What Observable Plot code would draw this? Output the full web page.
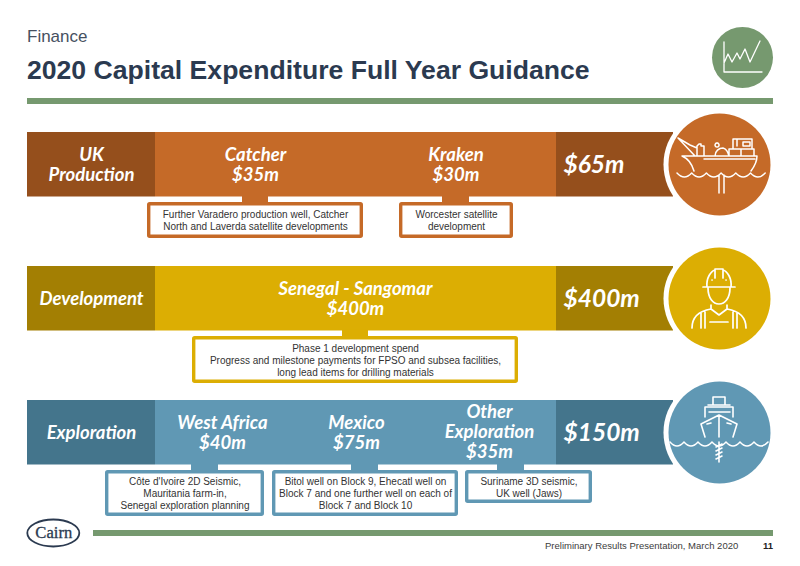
<!DOCTYPE html>
<html><head><meta charset="utf-8">
<script src="https://cdn.jsdelivr.net/npm/d3@7"></script>
<script src="https://cdn.jsdelivr.net/npm/@observablehq/plot@0.6"></script>
<style>
html,body{margin:0;padding:0;background:#fff;width:800px;height:566px;overflow:hidden}
#chart{position:absolute;left:0;top:0}
.t{position:absolute;font-family:"Liberation Sans",Arial,sans-serif;white-space:nowrap}
#sub{left:27px;top:27px;font-size:17px;color:#46505f}
#title{left:27px;top:55px;font-size:26.6px;font-weight:700;color:#2b3a50;margin:0}
#foot{left:545px;top:540px;font-size:9.5px;color:#3c3c3c}
#page{left:763px;top:540px;font-size:9.5px;font-weight:700;color:#222}
</style></head><body>
<div class="t" id="sub">Finance</div>
<h1 class="t" id="title">2020 Capital Expenditure Full Year Guidance</h1>
<div id="chart"></div>
<div class="t" id="foot">Preliminary Results Presentation, March 2020</div>
<div class="t" id="page">11</div>
<script>
// ---- values
const rowNames = ["UK\nProduction", "Development", "Exploration"];
const rowTotals = [65, 400, 150];
const itemRows = [0, 0, 1, 2, 2, 2];
const itemNames = ["Catcher", "Kraken", "Senegal - Sangomar", "West Africa", "Mexico", "Other\nExploration"];
const itemValues = [35, 30, 400, 40, 75, 35];
const itemNotes = [
  "Further Varadero production well, Catcher\nNorth and Laverda satellite developments",
  "Worcester satellite\ndevelopment",
  "Phase 1 development spend\nProgress and milestone payments for FPSO and subsea facilities,\nlong lead items for drilling materials",
  "Côte d'Ivoire 2D Seismic,\nMauritania farm-in,\nSenegal exploration planning",
  "Bitol well on Block 9, Ehecatl well on\nBlock 7 and one further well on each of\nBlock 7 and Block 10",
  "Suriname 3D seismic,\nUK well (Jaws)"
];

// ---- layout and style, kept apart from the values
const W = 800, H = 566;
const rowTop = [132, 266, 400], rowH = 64.5;
const darkL = [27, 155], mid = [155, 556], darkR = [556, 673];
const circleX = 719, circleY = [164, 298, 432];
const fills = ["#c56a28", "#dcae03", "#6098b4"];
const darks = ["#954f1c", "#a37f03", "#44758c"];
const green = "#76996f";
const itemCx = [255, 455.5, 355, 222, 356, 489];
const itemLabelY = [164, 164, 298, 432, 432, 431];
const boxes = [[147,363,202,238],[399,513,202,238],[192,518,336,383],[105,264,470,516],[272,458,470,516],[465,592,470,503]];
const stubs = [[242,268],[442,469],[342,368],[191,218],[351,378],[497,524]];
const heading = '"Lato","Carlito",sans-serif';
const body = '"Liberation Sans",Arial,sans-serif';

const rows = rowNames.map((name, i) => ({name, total: rowTotals[i], i}));
const items = itemNames.map((name, i) => ({name, value: itemValues[i], note: itemNotes[i], row: itemRows[i], i}));

// Icons: line art in circle-local pixels, drawn by a small custom mark
function icon(cx, cy, d, sw) {
  return (index, {x, y}) => {
    const g = d3.create("svg:g").attr("transform", `translate(${x(cx)},${y(cy)})`);
    g.append("path").attr("d", d).attr("fill", "none").attr("stroke", "#fff")
      .attr("stroke-width", sw).attr("stroke-linejoin", "round").attr("stroke-linecap", "round");
    return g.node();
  };
}
const waves = (x0, n, w, y) => {
  let s = `M${x0} ${y}`;
  for (let k = 0; k < n; k++) s += `q${w/2} 8 ${w} 0`;
  return s;
};
const chartIcon = "M-18 -15V15H20M-18 6L-14 -3L-10 5L-5 -4L-2 2L3 -8L8 5L18 -16";
const shipIcon = waves(-42, 6, 14.7, 9) +
  "M-41 -26L-24 -8M-41 -26L-29 -19L-22 -16M-22 -8V-18L-20 -20H-18V-18H-15V-8" +
  "M-37 -8H38M-15 -5H36M-37 -8C-30 -5 -27 0 -25 7M38 -8C38 -1 35 3 32 7" +
  "M-4 -8C-4 -13 0 -16 4 -16C8 -15 9 -12 10 -8M-2 -21a2 2 0 1 0 .1 0" +
  "M10 -8V-15H22M22 -15V-8M35 -8V-15H22M14 -15V-25H33V-16M18 -25V-18M24 -22H31V-18H24Z" +
  "M0 11V29M5 11V29";
const workerIcon = "M-12 -11C-13 -20 -8 -27 -4 -28V-20M4 -28C8 -27 13 -20 12 -11M4 -28V-20M-4 -29H4M-16 -11H16" +
  "M-7 -18h.1M7 -18h.1M-11 -10C-11 0 -6 6 0 6C6 6 11 0 11 -10" +
  "M-8 7V11L0 17L8 11V7M-8 11C-20 13 -27 19 -27 30M8 11C20 13 27 19 27 30M-18 15V30M-14 14V30M18 15V30M14 14V30M-9 24H9";
const drillIcon = waves(-49, 7, 14, 10) +
  "M-6 -27V-35H6V-27M-11 -27H11M-14 -15V-25H14V-15M-10 -20H11" +
  "M-14 5L-18 -8L0 -17L18 -8L14 5M0 -17V5M-12 -8L-8 -9M12 -8L8 -9" +
  "M0 10V30M-3 15L3 12M-3 19L3 16M-3 23L3 20M-3 27L3 24";

const plot = Plot.plot({
  width: W, height: H, margin: 0,
  x: {type: "linear", domain: [0, W], range: [0, W], axis: null},
  y: {type: "linear", domain: [0, H], range: [0, H], axis: null},
  style: {background: "transparent"},
  marks: [
    // header and footer rules
    Plot.rect([0], {x1: 27, x2: 773, y1: 98, y2: 104, fill: green}),
    Plot.rect([0], {x1: 93, x2: 773, y1: 530, y2: 536, fill: green}),
    // row bands
    Plot.rect(rows, {x1: mid[0], x2: mid[1], y1: d => rowTop[d.i], y2: d => rowTop[d.i] + rowH, fill: d => fills[d.i]}),
    Plot.rect(rows, {x1: darkL[0], x2: darkL[1], y1: d => rowTop[d.i], y2: d => rowTop[d.i] + rowH, fill: d => darks[d.i]}),
    Plot.rect(rows, {x1: darkR[0], x2: darkR[1], y1: d => rowTop[d.i], y2: d => rowTop[d.i] + rowH, fill: d => darks[d.i]}),
    // icon discs
    Plot.dot(rows, {x: circleX, y: d => circleY[d.i], r: 56, fill: "#fff"}),
    Plot.dot(rows, {x: circleX, y: d => circleY[d.i], r: 51, fill: d => fills[d.i]}),
    Plot.dot([0], {x: 742, y: 57, r: 30.5, fill: green}),
    // note connectors and boxes
    Plot.rect(items, {x1: d => stubs[d.i][0], x2: d => stubs[d.i][1], y1: d => rowTop[d.row] + rowH - 1, y2: d => boxes[d.i][2] + 2, fill: d => fills[d.row]}),
    Plot.rect(items, {x1: d => boxes[d.i][0] + 1.7, x2: d => boxes[d.i][1] - 1.7, y1: d => boxes[d.i][2] + 1.7, y2: d => boxes[d.i][3] - 1.7, r: 1, fill: "#fff", stroke: d => fills[d.row], strokeWidth: 3.4}),
    // notes
    Plot.text(items, {x: d => (boxes[d.i][0] + boxes[d.i][1]) / 2, y: d => (boxes[d.i][2] + boxes[d.i][3]) / 2, text: "note",
      fontFamily: body, fontSize: 10, fill: "#333", lineHeight: 1.2, lineAnchor: "middle"}),
    // category labels
    Plot.text(rows, {x: (darkL[0] + darkL[1]) / 2, y: d => rowTop[d.i] + rowH / 2, text: "name",
      fontFamily: heading, fontSize: 18.5, fontWeight: 700, fontStyle: "italic", fill: "#fff", lineHeight: 1.1, lineAnchor: "middle"}),
    Plot.text(rows, {x: 563, y: d => rowTop[d.i] + rowH / 2, text: d => `$${d.total}m`, textAnchor: "start",
      fontFamily: heading, fontSize: 24.5, fontWeight: 700, fontStyle: "italic", fill: "#fff", lineAnchor: "middle"}),
    Plot.text(items, {x: d => itemCx[d.i], y: d => itemLabelY[d.i], text: d => `${d.name}\n$${d.value}m`,
      fontFamily: heading, fontSize: 18.5, fontWeight: 700, fontStyle: "italic", fill: "#fff", lineHeight: 1.1, lineAnchor: "middle"}),
    // icons
    icon(742, 57, chartIcon, 1.3),
    icon(719, 164, shipIcon, 1.5),
    icon(719, 298, workerIcon, 1.7),
    icon(719, 432, drillIcon, 1.6),
    // logo
    (index, {x, y}) => {
      const g = d3.create("svg:g").attr("transform", `translate(${x(53.3)},${y(533)})`);
      g.append("ellipse").attr("rx", 26).attr("ry", 13.5).attr("fill", "none").attr("stroke", "#2b3a50").attr("stroke-width", 1.8);
      return g.node();
    },
    Plot.text(["Cairn"], {x: 53.3, y: 532.5, text: d => d, fontFamily: '"Liberation Serif",serif', fontSize: 16.6, fill: "#2b3a50", stroke: "#2b3a50", strokeWidth: 0.3, lineAnchor: "middle"})
  ]
});
document.getElementById("chart").append(plot);
</script>
</body></html>
